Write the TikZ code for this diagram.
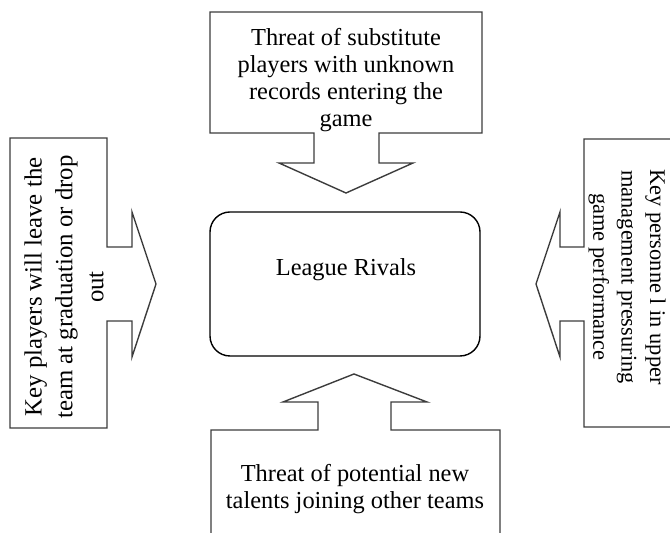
\documentclass[tikz,border=0pt]{standalone}
\usepackage{fontspec}
\setmainfont{Liberation Serif}
\usepackage{tikz}
\usetikzlibrary{positioning}
\definecolor{contorno}{RGB}{60,60,60}

\begin{document}
\begin{tikzpicture}[x=0.5pt, y=-0.5pt,
    callout/.style={draw=contorno, line width=0.7pt, line join=miter},
    rotulo/.style={align=center, font=\fontsize{12.2}{13.6}\selectfont, inner sep=0pt},
    rotulolado/.style={rotulo, font=\fontsize{12.4}{15.4}\selectfont}]
    \useasboundingbox (0,0) rectangle (670,533);
    % central box
    \node[draw, line width=0.7pt, rounded corners=10pt, minimum width=135pt,
          minimum height=72pt] (rivais) at (345,284) {};
    \node[rotulo] (rivaistxt) at (346,270) {League Rivals};
    % top: box, stem and head pointing down
    \draw[callout] (210,12) -- (482,12) -- (482,133) -- (379,133) -- (379,163)
        -- (413,163) -- (346,193) -- (279,163) -- (314,163) -- (314,133)
        -- (210,133) -- cycle;
    \node[rotulo] (substitutos) at (346,80)
        {Threat of substitute\\players with unknown\\records entering the\\game};
    % left: head pointing right
    \draw[callout] (10,138) -- (107,138) -- (107,247) -- (132,247) -- (132,212)
        -- (156,284) -- (132,357) -- (132,321) -- (107,321) -- (107,428)
        -- (10,428) -- cycle;
    \node[rotulolado, rotate=90] (jogadores) at (64,287)
        {Key players will leave the\\team at graduation or drop\\out};
    % right: head pointing left, box runs off the page
    \draw[callout] (690,139) -- (584,139) -- (584,247) -- (560,247) -- (560,212)
        -- (536,284) -- (560,357) -- (560,321) -- (584,321) -- (584,427)
        -- (690,427);
    \node[rotulo, font=\fontsize{11.2}{14.2}\selectfont, rotate=-90] (gestao)
        at (627,277) {Key personne l in upper\\management pressuring\\game performance};
    % bottom: head pointing up, box runs off the page
    \draw[callout] (211,550) -- (211,430) -- (318,430) -- (318,402) -- (283,402)
        -- (354,374) -- (427,402) -- (391,402) -- (391,430) -- (500,430)
        -- (500,550);
    \node[rotulo] (talentos) at (355,489)
        {Threat of potential new\\talents joining other teams};
\end{tikzpicture}
\end{document}
